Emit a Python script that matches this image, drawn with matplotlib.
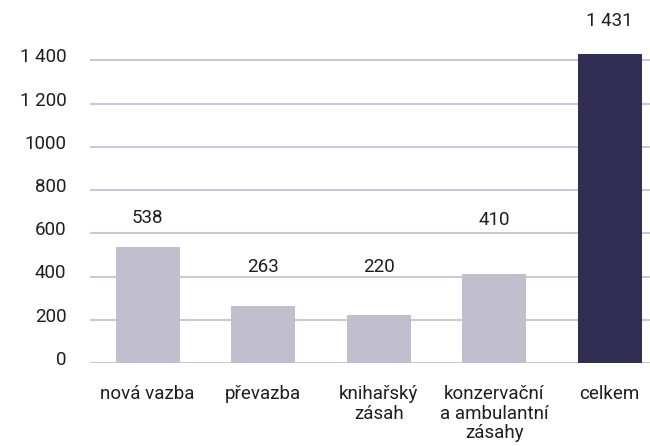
import matplotlib
matplotlib.use("Agg")
import matplotlib.pyplot as plt
from matplotlib.transforms import offset_copy, ScaledTranslation

categories = ["nová vazba", "převazba", "knihařský\nzásah", "konzervační\na ambulantní\nzásahy", "celkem"]
values = [538, 263, 220, 410, 1431]
value_labels = ["538", "263", "220", "410", "1 431"]
yticks = [0, 200, 400, 600, 800, 1000, 1200, 1400]
ytick_labels = ["0", "200", "400", "600", "800", "1000", "1 200", "1 400"]

# style
label_offsets_px = [29, 39, 48, 54, 33]
colors = ["#c1becd", "#c1becd", "#c1becd", "#c1becd", "#302f53"]
text_color = "#1e1e1e"
grid_color = "#cac8d8"
fs = 13.5

plt.rcParams['font.family'] = ['Roboto', 'DejaVu Sans']
W, H = 650, 446
fig = plt.figure(figsize=(W / 100, H / 100), dpi=100)
ax = fig.add_axes([90 / W, 83 / H, 5 * 115.5 / W, 346 / H])

x = list(range(len(categories)))
ax.bar(x, values, width=0.555, color=colors, zorder=2)
ax.set_xlim(-0.5, 4.5)
ax.set_ylim(0, 1600)
ax.set_yticks(yticks)
ax.set_yticklabels(ytick_labels, fontsize=fs, color=text_color)
ax.set_xticks(x)
ax.set_xticklabels(categories, fontsize=fs, color=text_color, linespacing=1.1)
ax.tick_params(axis='y', length=0, pad=17)
ax.tick_params(axis='x', length=0, pad=16)
shift = ScaledTranslation(0, 3 / 100, fig.dpi_scale_trans)
for lbl in ax.get_yticklabels():
    lbl.set_verticalalignment('center')
    lbl.set_transform(lbl.get_transform() + shift)
ax.grid(axis='y', color=grid_color, linewidth=1.5, zorder=0)
for s in ax.spines.values():
    s.set_visible(False)

for xi, v, lab, off in zip(x, values, value_labels, label_offsets_px):
    tr = offset_copy(ax.transData, fig=fig, x=0, y=off, units='dots')
    ax.text(xi, v, lab, transform=tr, ha='center', va='center', fontsize=fs, color=text_color)

fig.savefig("out.png", dpi=100)
